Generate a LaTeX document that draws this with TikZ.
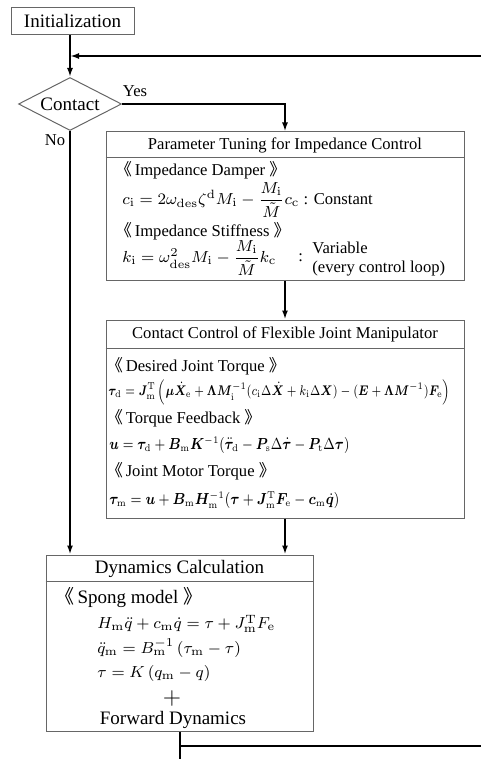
\documentclass[tikz,border=0pt]{standalone}
\usepackage{amsmath,amssymb}
\usepackage{bm}
\usepackage{graphicx}
\usepackage[no-math]{fontspec}
\setmainfont{Liberation Serif}
\newfontfamily\cjk{Noto Sans CJK SC}
\usetikzlibrary{shapes.geometric,arrows.meta}

% Section brackets
\newcommand{\hdl}{{\cjk 《}\,}
\newcommand{\hdr}{{\cjk 》}}
% Squeeze a formula to a given width
\newcommand{\squeeze}[2]{\resizebox{#1}{\height}{#2}}

\begin{document}
\begin{tikzpicture}[x=0.5pt,y=-0.5pt]
    % Font sizes
    \newcommand{\bigsz}{\fontsize{9.5}{11}\selectfont}
    \newcommand{\smallsz}{\fontsize{8.3}{9.5}\selectfont}
    \newcommand{\mathsz}{\fontsize{8}{9.5}\selectfont}
    \newcommand{\eqsz}{\fontsize{7.6}{9}\selectfont}
    % Width of the two right boxes
    \newcommand{\boxwidth}{179pt}
    % Styles
    \tikzstyle{plainbox}=[rectangle, draw=black!60, line width=0.5pt, inner sep=0]
    \tikzstyle{decision}=[diamond, draw=black!60, line width=0.5pt, inner sep=0,
      shape aspect=2, minimum width=51.5pt, minimum height=26.5pt, font=\bigsz]
    \tikzstyle{conn}=[line width=1pt, -{Latex[length=4.5pt,width=3pt]}]
    \tikzstyle{wire}=[line width=1pt]
    \tikzstyle{label}=[anchor=west, inner sep=0, font=\smallsz]
    \tikzstyle{biglabel}=[anchor=west, inner sep=0, font=\bigsz]
    \tikzstyle{mathlabel}=[anchor=west, inner sep=0, font=\mathsz]
    \tikzstyle{eqlabel}=[anchor=west, inner sep=0, font=\eqsz]

    \useasboundingbox (0,0) rectangle (481,759);

    % Initialization and decision
    \node[plainbox, minimum width=61.5pt, minimum height=13.5pt, font=\bigsz]
      (Init) at (72.5,21.5) {Initialization};
    \node[decision] (Decision) at (70,104) {Contact};
    \node[font=\smallsz, inner sep=0] (Yes) at (135,91) {Yes};
    \node[font=\smallsz, inner sep=0] (No) at (55,140) {No};

    % Parameter tuning box
    \node[plainbox, minimum width=\boxwidth, minimum height=74pt]
      (Tuning) at (285,206) {};
    \draw[draw=black!60, line width=0.5pt]
      ([yshift=-13pt]Tuning.north west) -- ([yshift=-13pt]Tuning.north east);
    \node[font=\smallsz, inner sep=0] (Tuning-title) at (285,145)
      {Parameter Tuning for Impedance Control};
    \node[label] (Tuning-1) at (115,170) {\hdl Impedance Damper \hdr};
    \node[label] (Tuning-2) at (122,200)
      {$c_{\mathrm{i}} = 2\omega_{\mathrm{des}}\zeta^{\mathrm{d}}M_{\mathrm{i}}
        - \dfrac{M_{\mathrm{i}}}{\tilde{M}}c_{\mathrm{c}}$ : Constant};
    \node[label] (Tuning-3) at (115,231) {\hdl Impedance Stiffness \hdr};
    \node[label] (Tuning-4) at (122,258)
      {$k_{\mathrm{i}} = \omega_{\mathrm{des}}^2M_{\mathrm{i}}
        - \dfrac{M_{\mathrm{i}}}{\tilde{M}}k_{\mathrm{c}}$};
    \node[label] (Tuning-5) at (298,258) {:};
    \node[label, align=left] (Tuning-6) at (312,259)
      {Variable\\(every control loop)};

    % Contact control box
    \node[plainbox, minimum width=\boxwidth, minimum height=99pt]
      (Control) at (285,419) {};
    \draw[draw=black!60, line width=0.5pt]
      ([yshift=-14.5pt]Control.north west) -- ([yshift=-14.5pt]Control.north east);
    \node[font=\smallsz, inner sep=0] (Control-title) at (285,334)
      {Contact Control of Flexible Joint Manipulator};
    \node[label] (Control-1) at (106,366) {\hdl Desired Joint Torque \hdr};
    \node[eqlabel, font=\fontsize{7}{8}\selectfont] (Control-2) at (108,392)
      {\squeeze{171pt}{$\bm{\tau}_{\mathrm{d}} = \bm{J}_{\mathrm{m}}^{\mathrm{T}}
        \left(\bm{\mu}\dot{\bm{X}}_{\mathrm{e}}
        + \bm{\Lambda}\bm{M}_{\mathrm{i}}^{-1}(c_{\mathrm{i}}\Delta\dot{\bm{X}}
        + k_{\mathrm{i}}\Delta\bm{X}) - (\bm{E}+\bm{\Lambda}\bm{M}^{-1})
        \bm{F}_{\mathrm{e}}\right)$}};
    \node[label] (Control-3) at (106,418) {\hdl Torque Feedback \hdr};
    \node[eqlabel] (Control-4) at (109,445)
      {\squeeze{120pt}{$\bm{u} = \bm{\tau}_{\mathrm{d}} + \bm{B}_{\mathrm{m}}\bm{K}^{-1}
        (\ddot{\bm{\tau}}_{\mathrm{d}} - \bm{P}_{\mathrm{s}}\Delta\dot{\bm{\tau}}
        - \bm{P}_{\mathrm{t}}\Delta\bm{\tau})$}};
    \node[label] (Control-5) at (106,471) {\hdl Joint Motor Torque \hdr};
    \node[eqlabel] (Control-6) at (109,500)
      {\squeeze{115pt}{$\bm{\tau}_{\mathrm{m}} = \bm{u}
        + \bm{B}_{\mathrm{m}}\bm{H}_{\mathrm{m}}^{-1}
        (\bm{\tau} + \bm{J}_{\mathrm{m}}^{\mathrm{T}}\bm{F}_{\mathrm{e}}
        - \bm{c}_{\mathrm{m}}\dot{\bm{q}})$}};

    % Dynamics box
    \node[plainbox, minimum width=133.5pt, minimum height=88pt]
      (Dyn) at (179.5,643) {};
    \draw[draw=black!60, line width=0.5pt]
      ([yshift=-13.5pt]Dyn.north west) -- ([yshift=-13.5pt]Dyn.north east);
    \node[font=\bigsz, inner sep=0] (Dyn-title) at (179.5,569) {Dynamics Calculation};
    \node[biglabel] (Dyn-1) at (55,598) {\hdl Spong model \hdr};
    \node[mathlabel] (Dyn-2) at (97,624)
      {$H_{\mathrm{m}}\ddot{q} + c_{\mathrm{m}}\dot{q} = \tau
        + J_{\mathrm{m}}^{\mathrm{T}}F_{\mathrm{e}}$};
    \node[mathlabel] (Dyn-3) at (97,648)
      {$\ddot{q}_{\mathrm{m}} = B_{\mathrm{m}}^{-1}\left(\tau_{\mathrm{m}} - \tau\right)$};
    \node[mathlabel] (Dyn-4) at (97,673)
      {$\tau = K\left(q_{\mathrm{m}} - q\right)$};
    \node[font=\fontsize{13}{14}\selectfont, inner sep=0] (Dyn-5) at (172,698) {$+$};
    \node[font=\bigsz, inner sep=0] (Dyn-6) at (173,720) {Forward Dynamics};

    % Loop ends at the picture edge
    \coordinate (LoopIn) at (481,56);
    \coordinate (LoopOut) at (481,746);
    \coordinate (BottomEnd) at (176,759);

    % Connectors
    \draw[conn] (Init.south -| Decision.north) -- (Decision.north);
    \draw[conn] (LoopIn) -- (Decision.north |- LoopIn);
    \draw[conn] (Decision.east) -| (Tuning.north);
    \draw[conn] (Decision.south) -- (Decision.south |- Dyn.north);
    \draw[conn] (Tuning.south) -- (Control.north);
    \draw[conn] (Control.south) -- (Control.south |- Dyn.north);
    \draw[wire] (Dyn.south) -- (Dyn.south |- BottomEnd);
    \draw[wire] (Dyn.south |- LoopOut) -- (LoopOut);
\end{tikzpicture}
\end{document}
